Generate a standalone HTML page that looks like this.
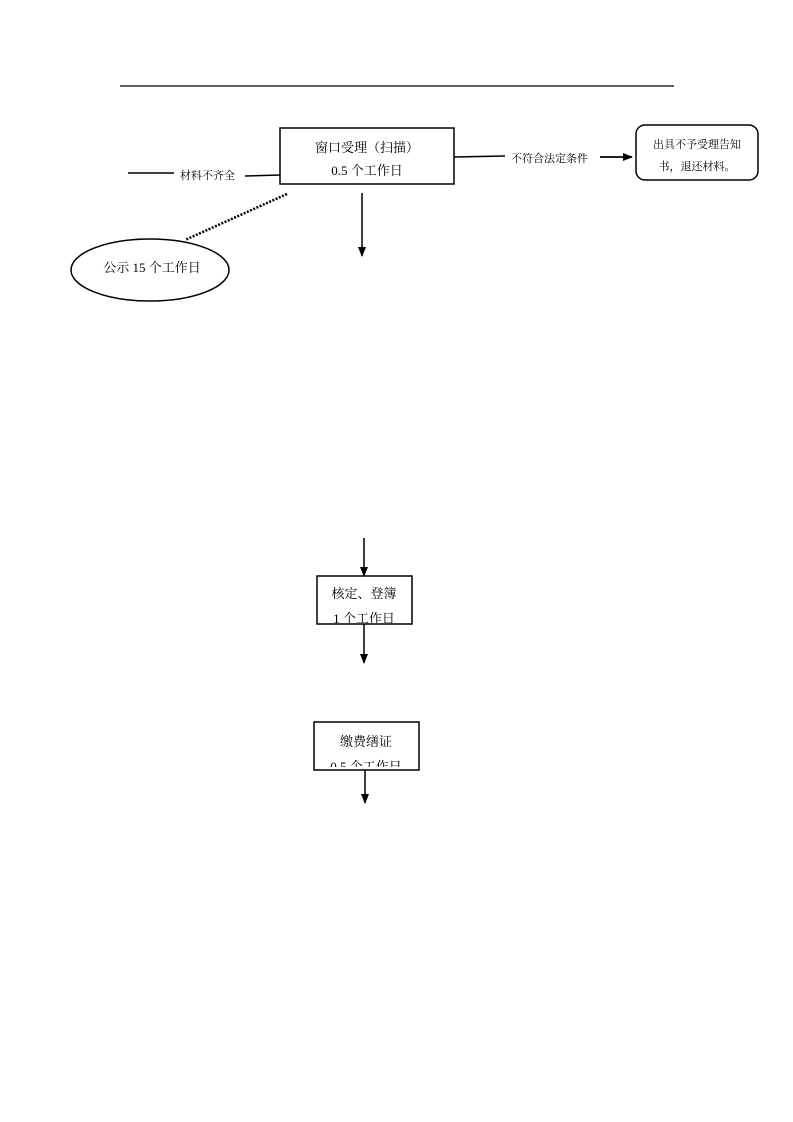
<!DOCTYPE html>
<html><head><meta charset="utf-8"><style>
html,body{margin:0;padding:0;background:#fff}
svg{display:block}
text{font-family:"Liberation Serif","Noto Serif CJK SC",serif;fill:#000}
</style></head><body>
<svg width="793" height="1122" viewBox="0 0 793 1122" xmlns="http://www.w3.org/2000/svg">
<defs>
<marker id="ah" markerWidth="10" markerHeight="10" refX="9" refY="5" orient="auto" markerUnits="userSpaceOnUse">
<path d="M0,1 L10,5 L0,9 Z" fill="#000"/></marker>
<clipPath id="c2"><rect x="317" y="576" width="95" height="47"/></clipPath>
<clipPath id="c3"><rect x="314" y="722" width="105" height="45"/></clipPath>
</defs>
<line x1="120" y1="86" x2="674" y2="86" stroke="#000" stroke-width="1.3"/>
<rect x="280" y="128" width="174" height="56" fill="#fff" stroke="#000" stroke-width="1.5"/>
<text x="367" y="152" font-size="13" text-anchor="middle">窗口受理（扫描）</text>
<text x="367" y="175" font-size="13" text-anchor="middle">0.5 个工作日</text>
<line x1="128" y1="173" x2="174" y2="173" stroke="#000" stroke-width="1.5"/>
<text x="180" y="179" font-size="11">材料不齐全</text>
<line x1="245" y1="176" x2="280" y2="175" stroke="#000" stroke-width="1.5"/>
<line x1="454" y1="157" x2="505" y2="156" stroke="#000" stroke-width="1.5"/>
<text x="511" y="162" font-size="11">不符合法定条件</text>
<line x1="600" y1="157" x2="632" y2="157" stroke="#000" stroke-width="1.8" marker-end="url(#ah)"/>
<rect x="636" y="125" width="122" height="55" rx="9" fill="#fff" stroke="#000" stroke-width="1.5"/>
<text x="697" y="148" font-size="11" text-anchor="middle">出具不予受理告知</text>
<text x="697" y="170" font-size="11" text-anchor="middle">书，退还材料。</text>
<line x1="287" y1="194" x2="185" y2="240" stroke="#000" stroke-width="2.5" stroke-dasharray="2,1.5"/>
<ellipse cx="150" cy="270" rx="79" ry="31" fill="#fff" stroke="#000" stroke-width="1.5"/>
<text x="152" y="272" font-size="13" text-anchor="middle">公示 15 个工作日</text>
<line x1="362" y1="193" x2="362" y2="256" stroke="#000" stroke-width="1.5" marker-end="url(#ah)"/>
<line x1="364" y1="538" x2="364" y2="576" stroke="#000" stroke-width="1.5" marker-end="url(#ah)"/>
<rect x="317" y="576" width="95" height="48" fill="#fff" stroke="#000" stroke-width="1.5"/>
<g clip-path="url(#c2)">
<text x="364" y="598" font-size="13" text-anchor="middle">核定、登簿</text>
<text x="364" y="623" font-size="13" text-anchor="middle">1 个工作日</text>
</g>
<line x1="364" y1="624" x2="364" y2="663" stroke="#000" stroke-width="1.5" marker-end="url(#ah)"/>
<rect x="314" y="722" width="105" height="48" fill="#fff" stroke="#000" stroke-width="1.5"/>
<g clip-path="url(#c3)">
<text x="366" y="746" font-size="13" text-anchor="middle">缴费缮证</text>
<text x="366" y="771" font-size="13" text-anchor="middle">0.5 个工作日</text>
</g>
<line x1="365" y1="770" x2="365" y2="803" stroke="#000" stroke-width="1.5" marker-end="url(#ah)"/>
</svg>
</body></html>
